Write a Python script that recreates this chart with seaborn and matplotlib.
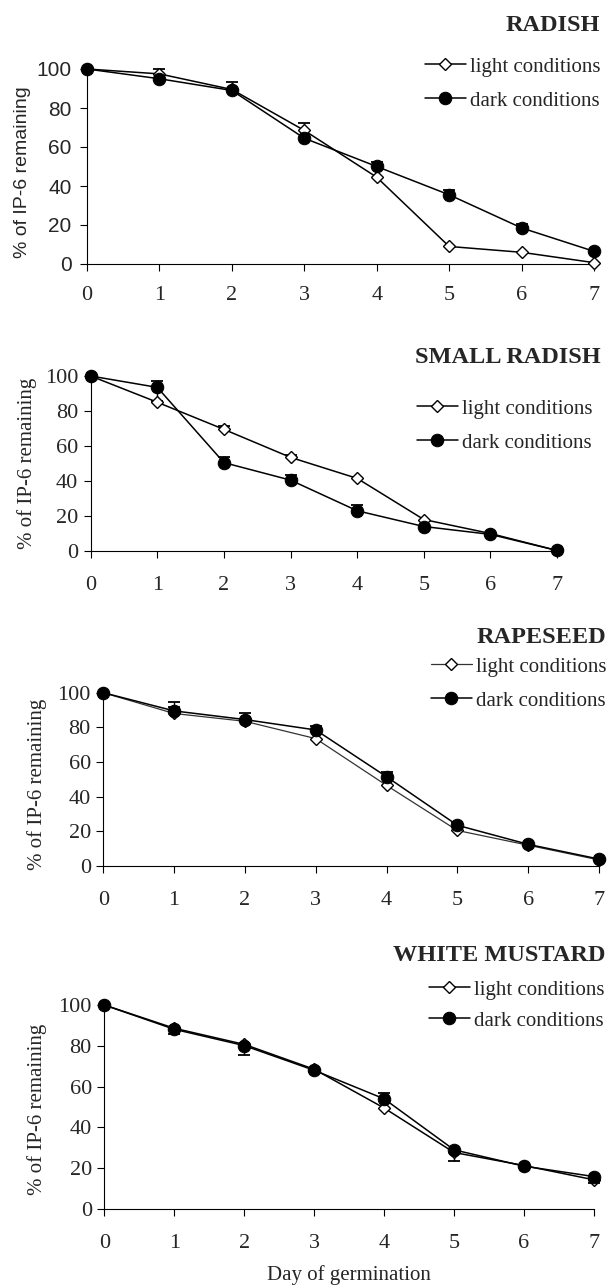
import numpy as np
import pandas as pd
import matplotlib.pyplot as plt
import seaborn as sns

# Days of germination (x axis)
days = [0, 1, 2, 3, 4, 5, 6, 7]
y_ticks = [0, 20, 40, 60, 80, 100]

# RADISH
radish_light = [100, 97.5, 89.5, 68.5, 44.5, 9.0, 6.0, 0.7]
radish_dark = [100, 95.0, 89.0, 64.5, 50.0, 35.5, 18.5, 6.5]
radish_light_hi = [0, 2.6, 0, 3.6, 0, 0, 0, 0]
radish_light_lo = [0, 0, 0, 0, 0, 0, 0, 0]
radish_dark_hi = [0, 0, 4.5, 0, 2.5, 2.5, 2.2, 0]
radish_dark_lo = [0, 0, 0, 0, 0, 0, 0, 0]

# SMALL RADISH
small_light = [100, 85.0, 69.5, 53.5, 41.5, 18.0, 10.0, 0.3]
small_dark = [100, 93.5, 50.5, 40.5, 23.0, 14.0, 9.5, 0.3]
small_light_hi = [0, 0, 2.0, 1.5, 0, 0, 0, 0]
small_light_lo = [0, 0, 0, 0, 0, 0, 0, 0]
small_dark_hi = [0, 3.6, 3.5, 3.0, 3.5, 0, 0, 0]
small_dark_lo = [0, 8.0, 0, 0, 0, 0, 0, 0]

# RAPESEED
rape_light = [100, 88.0, 83.5, 73.5, 46.5, 20.5, 12.0, 3.5]
rape_dark = [100, 89.5, 84.5, 78.5, 51.5, 23.5, 12.5, 4.0]
rape_light_hi = [0, 4.0, 0, 0, 0, 0, 0, 0]
rape_light_lo = [0, 0, 0, 0, 0, 0, 0, 0]
rape_dark_hi = [0, 5.3, 3.5, 2.3, 2.9, 2.0, 0, 0]
rape_dark_lo = [0, 0, 0, 0, 0, 0, 0, 0]

# WHITE MUSTARD
mustard_light = [100, 88.6, 80.7, 68.5, 49.5, 27.7, 21.3, 14.3]
mustard_dark = [100, 88.1, 80.1, 68.0, 54.0, 29.0, 21.0, 15.9]
mustard_light_hi = [0, 0, 0, 0, 0, 0, 0, 0]
mustard_light_lo = [0, 0, 0, 0, 0, 0, 0, 0]
mustard_dark_hi = [0, 0, 0, 0, 2.7, 0, 0, 0]
mustard_dark_lo = [0, 2.3, 4.6, 1.0, 0, 5.4, 0, 3.2]

sns.set_style('ticks')
plt.rcParams['font.family'] = ['Liberation Serif', 'DejaVu Serif']

W, H = 607, 1285
fig = plt.figure(figsize=(W / 100, H / 100), dpi=100)


def add_axes_px(left, top, right, bottom):
    return fig.add_axes([left / W, 1 - bottom / H, (right - left) / W, (bottom - top) / H])


def add_err(ax, vals, lo, hi):
    d, v = np.array(days), np.array(vals)
    lo, hi = np.array(lo), np.array(hi)
    m = (lo > 0) | (hi > 0)
    ax.errorbar(d[m], v[m], yerr=[lo[m], hi[m]], fmt='none', ecolor='black',
                elinewidth=1.0, capsize=0, zorder=2, clip_on=False)
    up, dn = hi > 0, lo > 0
    ax.plot(d[up], v[up] + hi[up], marker='_', ms=9, mew=1.3, ls='none',
            color='black', zorder=2, clip_on=False)
    ax.plot(d[dn], v[dn] - lo[dn], marker='_', ms=9, mew=1.3, ls='none',
            color='black', zorder=2, clip_on=False)


def draw_panel(ax, light, dark, errs, light_lw=1.1, light_color='black', xpad=13):
    add_err(ax, light, errs[0], errs[1])
    add_err(ax, dark, errs[2], errs[3])
    sns.lineplot(x=days, y=light, ax=ax, color=light_color, lw=light_lw,
                 marker='D', ms=6.5, markerfacecolor='white', markeredgecolor='black',
                 markeredgewidth=1.0, label='light conditions', clip_on=False, zorder=3)
    sns.lineplot(x=days, y=dark, ax=ax, color='black', lw=1.1,
                 marker='o', ms=9, markerfacecolor='black', markeredgecolor='black',
                 label='dark conditions', clip_on=False, zorder=4)
    ax.set_xlim(0, 7)
    ax.set_ylim(0, 100)
    ax.set_xticks(days)
    ax.set_yticks(y_ticks)
    sns.despine(ax=ax)
    for s in ['left', 'bottom']:
        ax.spines[s].set_linewidth(0.8)
        ax.spines[s].set_color('black')
    ax.tick_params(axis='both', direction='out', length=5, width=0.8,
                   color='black', labelsize=16)
    ax.tick_params(axis='x', pad=xpad)
    ax.tick_params(axis='y', pad=4)
    ax.set_xlabel('')
    ax.set_ylabel('% of IP-6 remaining', fontsize=15)


def add_legend(ax, right, top, spacing=0.7):
    ax.legend(loc='upper right', bbox_to_anchor=(right / W, 1 - top / H),
              bbox_transform=fig.transFigure, frameon=False, fontsize=15,
              handlelength=2.0, handletextpad=0.2, labelspacing=spacing,
              borderpad=0, borderaxespad=0)


# Panel 1: RADISH
ax1 = add_axes_px(87, 69, 594, 264)
draw_panel(ax1, radish_light, radish_dark,
           [radish_light_lo, radish_light_hi, radish_dark_lo, radish_dark_hi], xpad=11)
for lab in ax1.get_yticklabels():
    lab.set_fontfamily('Liberation Sans')
    lab.set_fontsize(15)
ax1.tick_params(axis='y', pad=6)
ax1.set_ylabel('% of IP-6 remaining', fontsize=14, fontfamily='Liberation Sans')
ax1.yaxis.set_label_coords(-0.11, 0.47)
add_legend(ax1, 601, 57)
fig.text(600 / W, 1 - 31 / H, 'RADISH', ha='right', va='baseline',
         fontsize=17.5, fontweight='bold')

# Panel 2: SMALL RADISH
ax2 = add_axes_px(90.7, 376, 557, 551)
draw_panel(ax2, small_light, small_dark,
           [small_light_lo, small_light_hi, small_dark_lo, small_dark_hi])
ax2.yaxis.set_label_coords(-0.115, 0.5)
add_legend(ax2, 593, 399)
fig.text(601 / W, 1 - 363 / H, 'SMALL RADISH', ha='right', va='baseline',
         fontsize=17.5, fontweight='bold')

# Panel 3: RAPESEED
ax3 = add_axes_px(103.3, 692.7, 599, 866)
draw_panel(ax3, rape_light, rape_dark,
           [rape_light_lo, rape_light_hi, rape_dark_lo, rape_dark_hi],
           light_lw=0.9, light_color='0.2')
ax3.yaxis.set_label_coords(-0.114, 0.47)
add_legend(ax3, 607, 657)
fig.text(606 / W, 1 - 643 / H, 'RAPESEED', ha='right', va='baseline',
         fontsize=17.5, fontweight='bold')

# Panel 4: WHITE MUSTARD
ax4 = add_axes_px(104.3, 1005, 594, 1209)
draw_panel(ax4, mustard_light, mustard_dark,
           [mustard_light_lo, mustard_light_hi, mustard_dark_lo, mustard_dark_hi])
ax4.yaxis.set_label_coords(-0.117, 0.49)
ax4.set_xlabel('Day of germination', fontsize=15, labelpad=9)
add_legend(ax4, 605, 980, spacing=0.55)
fig.text(605 / W, 1 - 961 / H, 'WHITE MUSTARD', ha='right', va='baseline',
         fontsize=17.5, fontweight='bold')

fig.savefig('out.png', dpi=100, facecolor='white')
